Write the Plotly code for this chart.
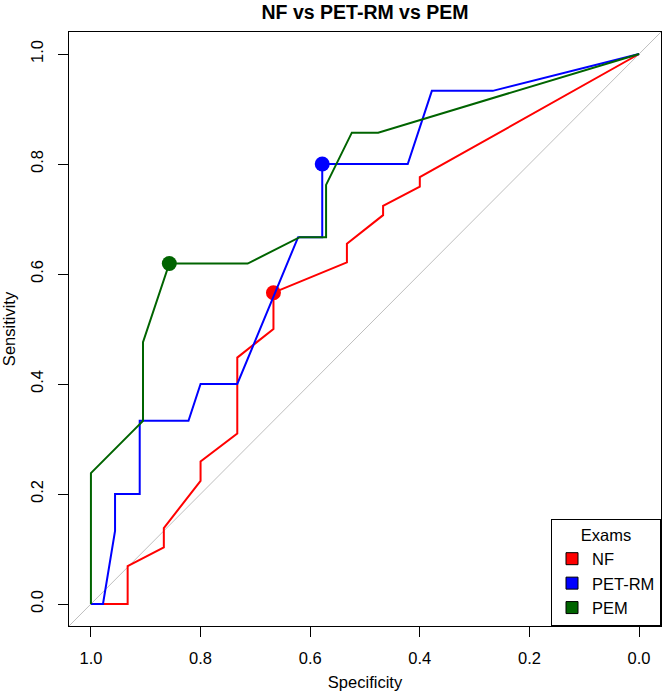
import plotly.graph_objects as go

# ---- data ----
nf_spec = [1.0, 0.933, 0.933, 0.867, 0.867, 0.8, 0.8, 0.733, 0.733, 0.667, 0.667,
           0.533, 0.533, 0.467, 0.467, 0.4, 0.4, 0.0]
nf_sens = [0.0, 0.0, 0.069, 0.103, 0.138, 0.224, 0.259, 0.31, 0.448, 0.5, 0.566,
           0.621, 0.655, 0.707, 0.724, 0.759, 0.776, 1.0]

petrm_spec = [1.0, 0.978, 0.956, 0.956, 0.911, 0.911, 0.822, 0.8, 0.733, 0.622,
              0.578, 0.578, 0.422, 0.378, 0.267, 0.0]
petrm_sens = [0.0, 0.0, 0.133, 0.2, 0.2, 0.333, 0.333, 0.4, 0.4, 0.667,
              0.667, 0.8, 0.8, 0.933, 0.933, 1.0]

pem_spec = [1.0, 1.0, 0.905, 0.905, 0.857, 0.714, 0.619, 0.571, 0.571, 0.524, 0.476, 0.0]
pem_sens = [0.0, 0.238, 0.333, 0.476, 0.619, 0.619, 0.667, 0.667, 0.762, 0.857, 0.857, 1.0]

best_names = ["NF", "PET-RM", "PEM"]
best_spec = [0.667, 0.578, 0.857]
best_sens = [0.566, 0.8, 0.619]

tick_vals = [1.0, 0.8, 0.6, 0.4, 0.2, 0.0]
tick_text = ["1.0", "0.8", "0.6", "0.4", "0.2", "0.0"]

colors = {"NF": "#FF0000", "PET-RM": "#0000FF", "PEM": "#006400"}
x_range = [1.04, -0.04]
y_range = [-0.04, 1.04]

FONT = "Liberation Sans, Arial, Helvetica, sans-serif"

fig = go.Figure()

# chance diagonal (abline through the whole plotting region)
diag_x = [x_range[0], x_range[1]]
diag_y = [1 - v for v in diag_x]
fig.add_trace(go.Scatter(x=diag_x, y=diag_y, mode="lines",
                         line=dict(color="#BEBEBE", width=1),
                         showlegend=False, hoverinfo="skip"))

curves = [("NF", nf_spec, nf_sens), ("PET-RM", petrm_spec, petrm_sens),
          ("PEM", pem_spec, pem_sens)]
for i, (name, sx, sy) in enumerate(curves):
    fig.add_trace(go.Scatter(x=sx, y=sy, mode="lines",
                             line=dict(color=colors[name], width=2),
                             showlegend=False, name=name))
    fig.add_trace(go.Scatter(x=[best_spec[i]], y=[best_sens[i]], mode="markers",
                             marker=dict(color=colors[name], size=15),
                             showlegend=False, name=name))

# legend entries
for name in best_names:
    fig.add_trace(go.Scatter(x=[None], y=[None], mode="markers", name=name,
                             marker=dict(symbol="square", size=12, color=colors[name],
                                         line=dict(color="black", width=1))))

axis_common = dict(
    showline=True, mirror=True, linecolor="black", linewidth=1,
    ticks="outside", ticklen=10, tickwidth=1, tickcolor="black",
    showgrid=False, zeroline=False,
    tickvals=tick_vals, ticktext=tick_text,
    tickfont=dict(family=FONT, size=16.5, color="black"),
)

fig.update_layout(
    width=664, height=697,
    margin=dict(l=69, r=3, t=32, b=71),
    plot_bgcolor="white", paper_bgcolor="white",
    font=dict(family=FONT, size=16.5, color="black"),
    title=dict(text="<b>NF vs PET-RM vs PEM</b>", x=0.5, xref="paper", xanchor="center",
               y=1 - 12 / 697, yref="container", yanchor="middle",
               font=dict(family=FONT, size=19.5, color="black")),
    xaxis=dict(range=x_range, ticklabelstandoff=7,
               title=dict(text="Specificity", standoff=10,
                          font=dict(family=FONT, size=16.5, color="black")),
               **axis_common),
    yaxis=dict(range=y_range, tickangle=-90, ticklabelstandoff=8,
               title=dict(text="Sensitivity", standoff=8,
                          font=dict(family=FONT, size=16.5, color="black")),
               **axis_common),
    legend=dict(x=1, y=0, xanchor="right", yanchor="bottom",
                bgcolor="white", bordercolor="black", borderwidth=1,
                font=dict(family=FONT, size=16.5, color="black"),
                title=dict(text="Exams", side="top center",
                           font=dict(family=FONT, size=16.5, color="black")),
                entrywidth=68, entrywidthmode="pixels",
                traceorder="normal"),
    showlegend=True,
)

fig.write_html("out.html")
